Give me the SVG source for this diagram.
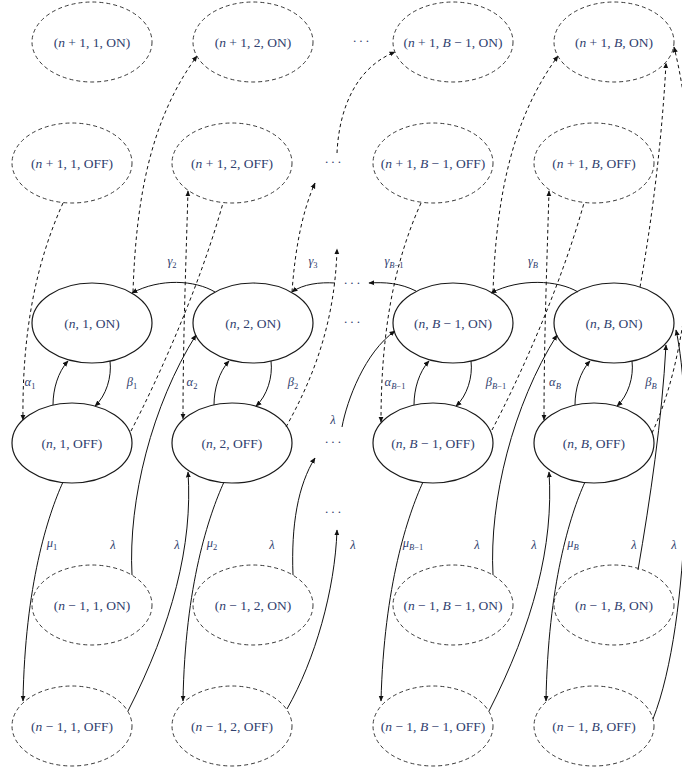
<svg xmlns="http://www.w3.org/2000/svg" width="682" height="775" viewBox="0 0 682 775">
<style>
  .bg { fill: #ffffff; }
  .ns { fill: none; stroke: #1a1a1a; stroke-width: 1.2; }
  .nd { fill: none; stroke: #3a3a3a; stroke-width: 1; stroke-dasharray: 4 3; }
  .t { font-family: "Liberation Serif", "Times New Roman", serif; font-size: 13.5px; fill: #30406e; text-anchor: middle; }
  .l { font-family: "Liberation Serif", "Times New Roman", serif; font-size: 12.5px; fill: #30406e; text-anchor: middle; }
  .i { font-style: italic; }
  .e { fill: none; stroke: #111; stroke-width: 1; }
  .ed { fill: none; stroke: #111; stroke-width: 1; stroke-dasharray: 3.5 3; }
  .dots { font-family: "Liberation Serif", serif; font-size: 13px; fill: #30406e; text-anchor: middle; letter-spacing: 2px; }
</style>
<defs>
  <marker id="a" viewBox="0 0 10 10" refX="9" refY="5" markerWidth="6" markerHeight="6" markerUnits="userSpaceOnUse" orient="auto-start-reverse">
    <path d="M0,0.8 L10,5 L0,9.2 z" fill="#111"/>
  </marker>
</defs>
<rect class="bg" x="0" y="0" width="682" height="775"/>

<!-- connectors -->
<g id="connectors">
  <!-- column 1 -->
  <path class="e" d="M53,405 C53,389 58,372 68,361" marker-end="url(#a)"/>
  <path class="e" d="M110,361 C112,377 106,396 95,406" marker-end="url(#a)"/>
  <path class="e" d="M63,482 C48,515 25,585 23,701" marker-end="url(#a)"/>
  <path class="e" d="M132,575 C128,500 152,405 196,335" marker-end="url(#a)"/>
  <path class="e" d="M128,711 C172,625 193,545 188,472" marker-end="url(#a)"/>
  <path class="e" d="M215,292 C195,280 160,278 132,293" marker-end="url(#a)"/>
  <path class="ed" d="M63,203 C35,265 22,335 23,420" marker-end="url(#a)"/>
  <path class="ed" d="M133,292 C136,200 150,120 197,56" marker-end="url(#a)"/>
  <path class="ed" d="M131,431 C160,375 200,285 223,203"/>
  <path class="ed" d="M188,191 C186,260 183,340 183,419" marker-start="url(#a)" marker-end="url(#a)"/>
  <!-- column 2 -->
  <path class="e" d="M214,405 C214,389 219,372 229,361" marker-end="url(#a)"/>
  <path class="e" d="M271,361 C273,377 267,396 256,406" marker-end="url(#a)"/>
  <path class="e" d="M224,482 C209,515 185,585 183,701" marker-end="url(#a)"/>
  <path class="e" d="M293,575 C291,525 298,485 315,458" marker-end="url(#a)"/>
  <path class="e" d="M287,709 C315,660 335,590 337,530" marker-end="url(#a)"/>
  <path class="e" d="M335,283 C320,282 303,284 292,292" marker-end="url(#a)"/>
  <path class="ed" d="M292,292 C295,250 302,212 315,183" marker-end="url(#a)"/>
  <path class="ed" d="M286,427 C315,375 335,320 337,249" marker-end="url(#a)"/>
  <!-- dots column -->
  <path class="ed" d="M337,153 C339,110 355,68 395,52" marker-end="url(#a)"/>
  <path class="e" d="M416,291 C400,283 385,282 369,283" marker-end="url(#a)"/>
  <path class="e" d="M342,427 C347,400 365,352 395,331" marker-end="url(#a)"/>
  <!-- column B-1 -->
  <path class="e" d="M414,405 C414,389 419,372 429,361" marker-end="url(#a)"/>
  <path class="e" d="M471,361 C473,377 467,396 456,406" marker-end="url(#a)"/>
  <path class="e" d="M423,482 C408,515 384,585 381,701" marker-end="url(#a)"/>
  <path class="e" d="M493,575 C489,500 513,405 557,335" marker-end="url(#a)"/>
  <path class="e" d="M489,711 C533,625 554,545 549,472" marker-end="url(#a)"/>
  <path class="e" d="M578,292 C558,280 520,278 491,293" marker-end="url(#a)"/>
  <path class="ed" d="M421,203 C393,265 381,335 381,422" marker-end="url(#a)"/>
  <path class="ed" d="M493,292 C496,200 511,120 558,56" marker-end="url(#a)"/>
  <path class="ed" d="M492,430 C521,375 561,285 584,203"/>
  <path class="ed" d="M549,191 C547,260 544,340 544,420" marker-start="url(#a)" marker-end="url(#a)"/>
  <!-- column B -->
  <path class="e" d="M575,405 C575,389 580,372 590,361" marker-end="url(#a)"/>
  <path class="e" d="M632,361 C634,377 628,396 617,406" marker-end="url(#a)"/>
  <path class="e" d="M585,482 C570,515 548,585 546,701" marker-end="url(#a)"/>
  <path class="e" d="M638,570 C650,500 662,420 666,345" marker-end="url(#a)"/>
  <path class="e" d="M653,719 C692,620 692,400 676,330" marker-end="url(#a)"/>
  <path class="ed" d="M640,287 C652,220 662,140 666,63" marker-end="url(#a)"/>
  <path class="ed" d="M652,433 C700,330 700,150 674,47" marker-end="url(#a)"/>
</g>

<!-- edge labels -->
<g id="labels">
  <text class="l" x="30" y="386"><tspan class="i">α</tspan><tspan font-size="8.5" dy="3">1</tspan></text>
  <text class="l" x="132" y="386"><tspan class="i">β</tspan><tspan font-size="8.5" dy="3">1</tspan></text>
  <text class="l" x="192" y="386"><tspan class="i">α</tspan><tspan font-size="8.5" dy="3">2</tspan></text>
  <text class="l" x="293" y="386"><tspan class="i">β</tspan><tspan font-size="8.5" dy="3">2</tspan></text>
  <text class="l" x="395" y="386"><tspan class="i">α</tspan><tspan font-size="8.5" dy="3"><tspan class="i">B</tspan>−1</tspan></text>
  <text class="l" x="496" y="386"><tspan class="i">β</tspan><tspan font-size="8.5" dy="3"><tspan class="i">B</tspan>−1</tspan></text>
  <text class="l" x="555" y="386"><tspan class="i">α</tspan><tspan font-size="8.5" dy="3" class="i">B</tspan></text>
  <text class="l" x="651" y="386"><tspan class="i">β</tspan><tspan font-size="8.5" dy="3" class="i">B</tspan></text>

  <text class="l" x="172" y="265"><tspan class="i">γ</tspan><tspan font-size="8.5" dy="3">2</tspan></text>
  <text class="l" x="313" y="265"><tspan class="i">γ</tspan><tspan font-size="8.5" dy="3">3</tspan></text>
  <text class="l" x="394" y="265"><tspan class="i">γ</tspan><tspan font-size="8.5" dy="3"><tspan class="i">B</tspan>−1</tspan></text>
  <text class="l" x="533" y="265"><tspan class="i">γ</tspan><tspan font-size="8.5" dy="3" class="i">B</tspan></text>

  <text class="l" x="52" y="547"><tspan class="i">μ</tspan><tspan font-size="8.5" dy="3">1</tspan></text>
  <text class="l" x="212" y="547"><tspan class="i">μ</tspan><tspan font-size="8.5" dy="3">2</tspan></text>
  <text class="l" x="413" y="547"><tspan class="i">μ</tspan><tspan font-size="8.5" dy="3"><tspan class="i">B</tspan>−1</tspan></text>
  <text class="l" x="573" y="547"><tspan class="i">μ</tspan><tspan font-size="8.5" dy="3" class="i">B</tspan></text>

  <text class="l i" x="113" y="549">λ</text>
  <text class="l i" x="177" y="549">λ</text>
  <text class="l i" x="272" y="549">λ</text>
  <text class="l i" x="353" y="549">λ</text>
  <text class="l i" x="477" y="549">λ</text>
  <text class="l i" x="534" y="549">λ</text>
  <text class="l i" x="634" y="549">λ</text>
  <text class="l i" x="674" y="549">λ</text>
  <text class="l i" x="333" y="424">λ</text>

  <text class="dots" x="362" y="45">···</text>
  <text class="dots" x="334" y="166">···</text>
  <text class="dots" x="353" y="287">···</text>
  <text class="dots" x="353" y="326">···</text>
  <text class="dots" x="334" y="446">···</text>
  <text class="dots" x="334" y="516">···</text>
</g>

<!-- row n+1 ON -->
<g id="np1_1_on"><ellipse class="nd" cx="92" cy="42" rx="60" ry="40"/><text class="t" x="92" y="46.5">(<tspan class="i">n</tspan> + 1, 1, ON)</text></g>
<g id="np1_2_on"><ellipse class="nd" cx="253" cy="42" rx="60" ry="40"/><text class="t" x="253" y="46.5">(<tspan class="i">n</tspan> + 1, 2, ON)</text></g>
<g id="np1_Bm1_on"><ellipse class="nd" cx="453" cy="42" rx="60" ry="40"/><text class="t" x="453" y="46.5">(<tspan class="i">n</tspan> + 1, <tspan class="i">B</tspan> − 1, ON)</text></g>
<g id="np1_B_on"><ellipse class="nd" cx="614" cy="42" rx="60" ry="40"/><text class="t" x="614" y="46.5">(<tspan class="i">n</tspan> + 1, <tspan class="i">B</tspan>, ON)</text></g>
<!-- row n+1 OFF -->
<g id="np1_1_off"><ellipse class="nd" cx="72" cy="163" rx="60" ry="40"/><text class="t" x="72" y="167.5">(<tspan class="i">n</tspan> + 1, 1, OFF)</text></g>
<g id="np1_2_off"><ellipse class="nd" cx="232" cy="163" rx="60" ry="40"/><text class="t" x="232" y="167.5">(<tspan class="i">n</tspan> + 1, 2, OFF)</text></g>
<g id="np1_Bm1_off"><ellipse class="nd" cx="433" cy="163" rx="60" ry="40"/><text class="t" x="433" y="167.5">(<tspan class="i">n</tspan> + 1, <tspan class="i">B</tspan> − 1, OFF)</text></g>
<g id="np1_B_off"><ellipse class="nd" cx="594" cy="163" rx="60" ry="40"/><text class="t" x="594" y="167.5">(<tspan class="i">n</tspan> + 1, <tspan class="i">B</tspan>, OFF)</text></g>
<!-- row n ON -->
<g id="n_1_on"><ellipse class="ns" cx="92" cy="323" rx="60" ry="40"/><text class="t" x="92" y="327.5">(<tspan class="i">n</tspan>, 1, ON)</text></g>
<g id="n_2_on"><ellipse class="ns" cx="253" cy="323" rx="60" ry="40"/><text class="t" x="253" y="327.5">(<tspan class="i">n</tspan>, 2, ON)</text></g>
<g id="n_Bm1_on"><ellipse class="ns" cx="453" cy="323" rx="60" ry="40"/><text class="t" x="453" y="327.5">(<tspan class="i">n</tspan>, <tspan class="i">B</tspan> − 1, ON)</text></g>
<g id="n_B_on"><ellipse class="ns" cx="614" cy="323" rx="60" ry="40"/><text class="t" x="614" y="327.5">(<tspan class="i">n</tspan>, <tspan class="i">B</tspan>, ON)</text></g>
<!-- row n OFF -->
<g id="n_1_off"><ellipse class="ns" cx="72" cy="443" rx="60" ry="40"/><text class="t" x="72" y="447.5">(<tspan class="i">n</tspan>, 1, OFF)</text></g>
<g id="n_2_off"><ellipse class="ns" cx="232" cy="443" rx="60" ry="40"/><text class="t" x="232" y="447.5">(<tspan class="i">n</tspan>, 2, OFF)</text></g>
<g id="n_Bm1_off"><ellipse class="ns" cx="433" cy="443" rx="60" ry="40"/><text class="t" x="433" y="447.5">(<tspan class="i">n</tspan>, <tspan class="i">B</tspan> − 1, OFF)</text></g>
<g id="n_B_off"><ellipse class="ns" cx="594" cy="443" rx="60" ry="40"/><text class="t" x="594" y="447.5">(<tspan class="i">n</tspan>, <tspan class="i">B</tspan>, OFF)</text></g>
<!-- row n-1 ON -->
<g id="nm1_1_on"><ellipse class="nd" cx="92" cy="605" rx="60" ry="40"/><text class="t" x="92" y="609.5">(<tspan class="i">n</tspan> − 1, 1, ON)</text></g>
<g id="nm1_2_on"><ellipse class="nd" cx="253" cy="605" rx="60" ry="40"/><text class="t" x="253" y="609.5">(<tspan class="i">n</tspan> − 1, 2, ON)</text></g>
<g id="nm1_Bm1_on"><ellipse class="nd" cx="453" cy="605" rx="60" ry="40"/><text class="t" x="453" y="609.5">(<tspan class="i">n</tspan> − 1, <tspan class="i">B</tspan> − 1, ON)</text></g>
<g id="nm1_B_on"><ellipse class="nd" cx="614" cy="605" rx="60" ry="40"/><text class="t" x="614" y="609.5">(<tspan class="i">n</tspan> − 1, <tspan class="i">B</tspan>, ON)</text></g>
<!-- row n-1 OFF -->
<g id="nm1_1_off"><ellipse class="nd" cx="72" cy="726" rx="60" ry="40"/><text class="t" x="72" y="730.5">(<tspan class="i">n</tspan> − 1, 1, OFF)</text></g>
<g id="nm1_2_off"><ellipse class="nd" cx="232" cy="726" rx="60" ry="40"/><text class="t" x="232" y="730.5">(<tspan class="i">n</tspan> − 1, 2, OFF)</text></g>
<g id="nm1_Bm1_off"><ellipse class="nd" cx="433" cy="726" rx="60" ry="40"/><text class="t" x="433" y="730.5">(<tspan class="i">n</tspan> − 1, <tspan class="i">B</tspan> − 1, OFF)</text></g>
<g id="nm1_B_off"><ellipse class="nd" cx="594" cy="726" rx="60" ry="40"/><text class="t" x="594" y="730.5">(<tspan class="i">n</tspan> − 1, <tspan class="i">B</tspan>, OFF)</text></g>
</svg>
